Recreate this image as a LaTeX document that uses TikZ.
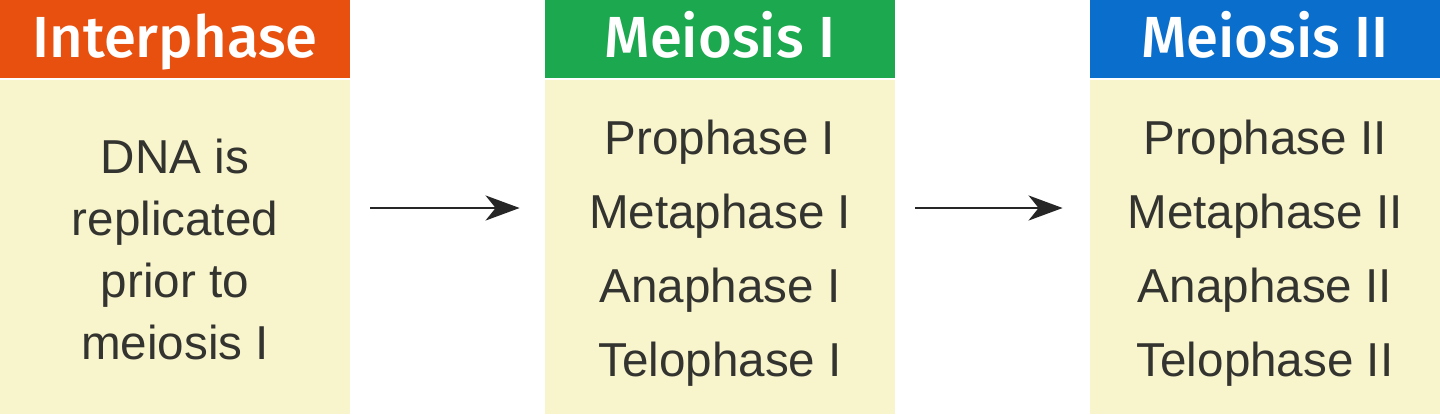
\documentclass[tikz,border=0pt]{standalone}
\usepackage{fontspec}
\setmainfont{Liberation Sans}
\newfontfamily\headfont{Fira Sans Medium}
\usetikzlibrary{positioning,arrows.meta}

\definecolor{interorange}{HTML}{E8500F}
\definecolor{meiogreen}{HTML}{1BA84F}
\definecolor{meioblue}{HTML}{0A6FCC}
\definecolor{bodyyellow}{HTML}{F8F5CC}
\definecolor{textgray}{HTML}{333330}

\tikzset{
  headbox/.style={rectangle, draw=none, minimum width=175pt, minimum height=39pt,
    inner sep=0pt, text=white, text height=20pt, text depth=2pt,
    font=\headfont\fontsize{29}{33}\selectfont},
  bodybox/.style={rectangle, draw=none, fill=bodyyellow, minimum width=175pt,
    minimum height=167pt, inner sep=0pt},
  bodytext/.style={inner sep=0pt, align=center, text=textgray,
    font=\fontsize{23.8}{37}\selectfont},
  flowarrow/.style={-{Stealth[length=17pt, width=12.5pt, inset=5pt]}, line width=1.4pt, black!85}
}

\begin{document}
\begin{tikzpicture}[x=0.5pt, y=-0.5pt]
  \fill[white] (0,0) rectangle (1440,414);
  \coordinate (arrowrow) at (0,208);

  % interphase column
  \node[headbox, fill=interorange] (interhead) at (175,39) {Interphase};
  \node[bodybox] (interbody) at (175,247) {};
  \node[bodytext, font=\fontsize{23.8}{31}\selectfont] (intertext) at ([yshift=-1pt]interbody.center) {DNA is\\replicated\\prior to\\meiosis I};

  % meiosis I column
  \node[headbox, fill=meiogreen] (mOnehead) at (720,39) {Meiosis I};
  \node[bodybox] (mOnebody) at (720,247) {};
  \node[bodytext] (mOnetext) at ([yshift=-3pt]mOnebody.center) {Prophase I\\Metaphase I\\Anaphase I\\Telophase I};

  % meiosis II column
  \node[headbox, fill=meioblue] (mTwohead) at (1265,39) {Meiosis II};
  \node[bodybox] (mTwobody) at (1265,247) {};
  \node[bodytext] (mTwotext) at ([yshift=-3pt]mTwobody.center) {Prophase II\\Metaphase II\\Anaphase II\\Telophase II};

  % arrows
  \draw[flowarrow, shorten <=10pt, shorten >=12.5pt] (interbody.east |- arrowrow) -- (mOnebody.west |- arrowrow);
  \draw[flowarrow, shorten <=10pt, shorten >=13.5pt] (mOnebody.east |- arrowrow) -- (mTwobody.west |- arrowrow);
\end{tikzpicture}
\end{document}
